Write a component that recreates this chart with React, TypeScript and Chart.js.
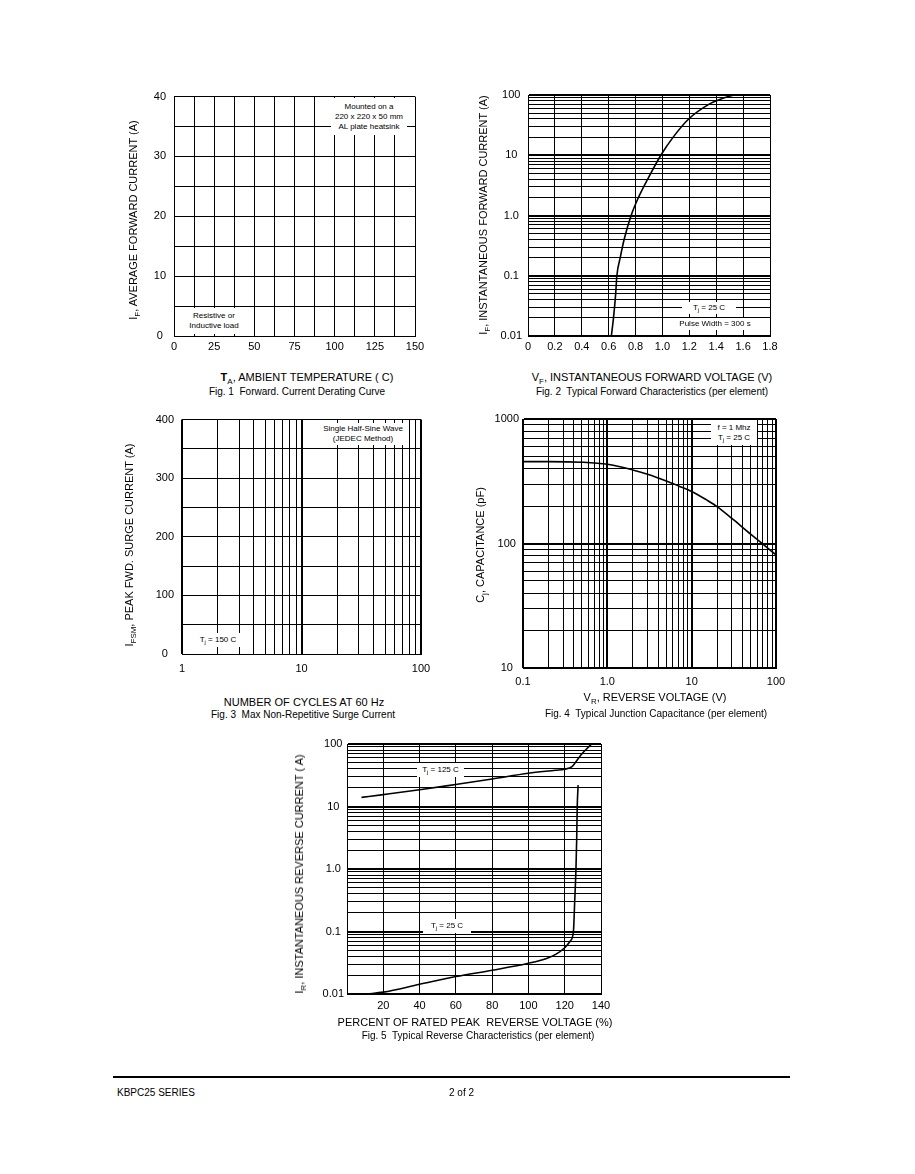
import React, { useEffect, useRef } from 'react';
import { Chart, registerables } from 'chart.js';

Chart.register(...registerables);

const FONT = '"Liberation Sans", Arial, Helvetica, sans-serif';

// ---------- Fig. 1 (grid only) ----------
const fig1XTicks = [0, 12.5, 25, 37.5, 50, 62.5, 75, 87.5, 100, 112.5, 125, 137.5, 150];
const fig1XLabels = ['0', '', '25', '', '50', '', '75', '', '100', '', '125', '', '150'];
const fig1YTicks = [0, 5, 10, 15, 20, 25, 30, 35, 40];
const fig1YLabels = ['0', '', '10', '', '20', '', '30', '', '40'];

// ---------- Fig. 2 ----------
const fig2XTicks = [0, 0.2, 0.4, 0.6, 0.8, 1.0, 1.2, 1.4, 1.6, 1.8];
const fig2XLabels = ['0', '0.2', '0.4', '0.6', '0.8', '1.0', '1.2', '1.4', '1.6', '1.8'];
const fig2YLabelValues = [0.01, 0.1, 1, 10, 100];
const fig2YLabels = ['0.01', '0.1', '1.0', '10', '100'];
const fig2Voltage = [0.62, 0.636, 0.652, 0.661, 0.686, 0.715, 0.767, 0.822, 0.89, 0.988, 1.08, 1.195, 1.345, 1.45, 1.53];
const fig2Current = [0.01, 0.02, 0.05, 0.1, 0.2, 0.4, 1.0, 2.0, 4.0, 10, 20, 40, 70, 88, 100];

// ---------- Fig. 3 (grid only) ----------
const fig3XLabelValues = [1, 10, 100];
const fig3XLabels = ['1', '10', '100'];
const fig3YTicks = [0, 50, 100, 150, 200, 250, 300, 350, 400];
const fig3YLabels = ['0', '', '100', '', '200', '', '300', '', '400'];

// ---------- Fig. 4 ----------
const fig4XLabelValues = [0.1, 1, 10, 100];
const fig4XLabels = ['0.1', '1.0', '10', '100'];
const fig4YLabelValues = [10, 100, 1000];
const fig4YLabels = ['10', '100', '1000'];
const fig4Voltage = [0.1, 0.2, 0.5, 1.0, 2.0, 3.0, 5.0, 7.0, 10, 15, 20, 30, 50, 70, 100];
const fig4Cap = [455, 455, 450, 433, 390, 360, 318, 290, 262, 224, 198, 159, 119, 99, 81];

// ---------- Fig. 5 ----------
const fig5XTicks = [0, 20, 40, 60, 80, 100, 120, 140];
const fig5XLabels = ['', '20', '40', '60', '80', '100', '120', '140'];
const fig5YLabelValues = [0.01, 0.1, 1, 10, 100];
const fig5YLabels = ['0.01', '0.1', '1.0', '10', '100'];
const fig5Percent125 = [8, 20, 40, 60, 80, 100, 115, 120, 124, 126.6, 129.4, 132, 134.8];
const fig5Current125 = [14, 15.5, 18.5, 22.5, 27.5, 34, 38, 39.5, 43.5, 54, 69, 83, 100];
const fig5Percent25 = [11, 20, 40, 60, 80, 100, 110, 115, 120, 123, 124.8, 125.5, 126.2, 126.6, 126.9, 127.4];
const fig5Current25 = [0.01, 0.0107, 0.0143, 0.019, 0.024, 0.031, 0.037, 0.043, 0.055, 0.07, 0.1, 0.3, 1, 3, 10, 22];

// grid lines at 1..9 x 10^e for a log axis
function logGrid(minExp: number, maxExp: number): number[] {
  const out: number[] = [];
  for (let e = minExp; e < maxExp; e++) {
    for (let m = 1; m < 10; m++) out.push(+(m * Math.pow(10, e)).toPrecision(4));
  }
  out.push(+Math.pow(10, maxExp).toPrecision(4));
  return out;
}
const isDecade = (v: number) => {
  const l = Math.log10(v);
  return Math.abs(l - Math.round(l)) < 1e-9;
};

const tickFont = { family: FONT, size: 11 };

function linAxis(min: number, max: number, ticks: number[], labels: string[], pad: number, vertical: boolean) {
  return {
    type: 'linear',
    min,
    max,
    afterBuildTicks: (s: any) => {
      s.ticks = ticks.map((v) => ({ value: v }));
    },
    ticks: {
      autoSkip: false,
      maxRotation: 0,
      minRotation: 0,
      padding: pad,
      color: '#000',
      font: tickFont,
      crossAlign: vertical ? 'center' : 'near',
      callback: (_v: any, i: number) => labels[i] ?? '',
    },
    grid: { color: '#000', lineWidth: 1, drawTicks: false },
    border: { color: '#000', width: 1 },
  };
}

function logAxis(minExp: number, maxExp: number, labelValues: number[], labels: string[], pad: number, vertical: boolean) {
  const ticks = logGrid(minExp, maxExp);
  return {
    type: 'logarithmic',
    min: Math.pow(10, minExp),
    max: Math.pow(10, maxExp),
    afterBuildTicks: (s: any) => {
      s.ticks = ticks.map((v) => ({ value: v }));
    },
    ticks: {
      autoSkip: false,
      maxRotation: 0,
      minRotation: 0,
      padding: pad,
      color: '#000',
      font: tickFont,
      crossAlign: vertical ? 'center' : 'near',
      callback: (v: any) => {
        const val = Number(v);
        const idx = labelValues.findIndex((lv) => Math.abs(val / lv - 1) < 1e-6);
        return idx >= 0 ? labels[idx] : '';
      },
    },
    grid: {
      color: '#000',
      lineWidth: (ctx: any) => (ctx.tick && isDecade(ctx.tick.value) ? 2 : 1),
      drawTicks: false,
    },
    border: { color: '#000', width: 1 },
  };
}

function curve(xs: number[], ys: number[]) {
  return {
    data: xs.map((x, i) => ({ x, y: ys[i] })),
    borderColor: '#000',
    borderWidth: 1.6,
    pointRadius: 0,
    fill: false,
    cubicInterpolationMode: 'monotone',
  };
}

function baseConfig(datasets: any[], x: any, y: any) {
  return {
    type: 'line',
    data: { datasets },
    options: {
      animation: false,
      responsive: false,
      events: [],
      plugins: { legend: { display: false }, tooltip: { enabled: false } },
      scales: { x, y },
    },
  };
}

const YW = 60;
const XH = 30;
const PT = 14;
const PR = 22;

function ChartBox(props: { left: number; top: number; right: number; bottom: number; build: () => any }) {
  const ref = useRef<HTMLCanvasElement>(null);
  const { left, top, right, bottom, build } = props;
  const w = right - left + YW + PR;
  const h = bottom - top + PT + XH;
  useEffect(() => {
    const cfg = build();
    cfg.options.layout = { padding: { top: PT, right: PR, left: 0, bottom: 0 } };
    cfg.options.scales.x.afterFit = (s: any) => {
      s.height = XH;
    };
    cfg.options.scales.y.afterFit = (s: any) => {
      s.width = YW;
    };
    const chart = new Chart(ref.current as HTMLCanvasElement, cfg);
    return () => chart.destroy();
  }, []);
  return (
    <canvas
      ref={ref}
      width={w}
      height={h}
      style={{ position: 'absolute', left: left - YW, top: top - PT, width: w, height: h, display: 'block' }}
    />
  );
}

const Sub = (p: { children: any }) => (
  <span style={{ fontSize: '0.72em', position: 'relative', top: '0.35em' }}>{p.children}</span>
);

function Label(props: { x: number; y: number; size?: number; rotate?: boolean; children: any }) {
  const { x, y, size = 11, rotate, children } = props;
  return (
    <div
      style={{
        position: 'absolute',
        left: x,
        top: y,
        transform: `translate(-50%, -50%)${rotate ? ' rotate(-90deg)' : ''}`,
        whiteSpace: 'nowrap',
        fontSize: size,
        lineHeight: `${size + 2}px`,
      }}
    >
      {children}
    </div>
  );
}

function Note(props: { left: number; top: number; width: number; height: number; size?: number; lines: any[] }) {
  const { left, top, width, height, size = 8, lines } = props;
  return (
    <div
      style={{
        position: 'absolute',
        left,
        top,
        width,
        height,
        background: '#fff',
        display: 'flex',
        flexDirection: 'column',
        justifyContent: 'center',
        alignItems: 'center',
        fontSize: size,
        lineHeight: '10px',
        whiteSpace: 'nowrap',
      }}
    >
      {lines.map((l, i) => (
        <div key={i}>{l}</div>
      ))}
    </div>
  );
}

const fig1Config = () =>
  baseConfig([], linAxis(0, 150, fig1XTicks, fig1XLabels, 4, false), linAxis(0, 40, fig1YTicks, fig1YLabels, 8, true));

const fig2Config = () =>
  baseConfig(
    [curve(fig2Voltage, fig2Current)],
    linAxis(0, 1.8, fig2XTicks, fig2XLabels, 4, false),
    logAxis(-2, 2, fig2YLabelValues, fig2YLabels, 6, true)
  );

const fig3Config = () =>
  baseConfig(
    [],
    logAxis(0, 2, fig3XLabelValues, fig3XLabels, 8, false),
    linAxis(0, 400, fig3YTicks, fig3YLabels, 8, true)
  );

const fig4Config = () =>
  baseConfig(
    [curve(fig4Voltage, fig4Cap)],
    logAxis(-1, 2, fig4XLabelValues, fig4XLabels, 7, false),
    logAxis(1, 3, fig4YLabelValues, fig4YLabels, 4, true)
  );

const fig5Config = () =>
  baseConfig(
    [curve(fig5Percent125, fig5Current125), curve(fig5Percent25, fig5Current25)],
    linAxis(0, 140, fig5XTicks, fig5XLabels, 5, false),
    logAxis(-2, 2, fig5YLabelValues, fig5YLabels, 3, true)
  );

export default function App() {
  return (
    <div
      style={{
        position: 'absolute',
        left: 0,
        top: 0,
        width: 915,
        height: 1174,
        background: '#fff',
        color: '#000',
        fontFamily: FONT,
        overflow: 'hidden',
      }}
    >
      <ChartBox left={174} top={96} right={415} bottom={336} build={fig1Config} />
      <ChartBox left={528} top={95} right={770} bottom={336} build={fig2Config} />
      <ChartBox left={182} top={419} right={421} bottom={654} build={fig3Config} />
      <ChartBox left={523} top={419} right={776} bottom={668} build={fig4Config} />
      <ChartBox left={347} top={744} right={601} bottom={994} build={fig5Config} />

      {/* Fig 1 */}
      <Note left={331} top={98} width={76} height={37} lines={['Mounted on a', '220 x 220 x 50 mm', 'AL plate heatsink']} />
      <Note left={175} top={308} width={78} height={26} lines={['Resistive or', 'Inductive load']} />
      <Label x={134} y={220} rotate>
        I<Sub>F</Sub>, AVERAGE FORWARD CURRENT (A)
      </Label>
      <Label x={307} y={378}>
        <b>T</b>
        <Sub>A</Sub>, AMBIENT TEMPERATURE ( C)
      </Label>
      <Label x={297} y={392} size={10}>
        Fig. 1&nbsp; Forward. Current Derating Curve
      </Label>

      {/* Fig 2 */}
      <Note left={682} top={302} width={54} height={12} lines={[<span>T<Sub>j</Sub> = 25 C</span>]} />
      <Note left={672} top={318} width={86} height={12} lines={['Pulse Width = 300  s']} />
      <Label x={484} y={215} rotate>
        I<Sub>F</Sub>, INSTANTANEOUS FORWARD CURRENT (A)
      </Label>
      <Label x={652} y={378}>
        V<Sub>F</Sub>, INSTANTANEOUS FORWARD VOLTAGE (V)
      </Label>
      <Label x={652} y={392} size={10}>
        Fig. 2&nbsp; Typical Forward Characteristics (per element)
      </Label>

      {/* Fig 3 */}
      <Note left={318} top={423} width={90} height={22} lines={['Single Half-Sine Wave', '(JEDEC Method)']} />
      <Note left={192} top={633} width={52} height={14} lines={[<span>T<Sub>j</Sub> = 150 C</span>]} />
      <Label x={130} y={545} rotate>
        I<Sub>FSM</Sub>, PEAK FWD. SURGE CURRENT (A)
      </Label>
      <Label x={304} y={702}>
        NUMBER OF CYCLES AT 60 Hz
      </Label>
      <Label x={303} y={715} size={10}>
        Fig. 3&nbsp; Max Non-Repetitive Surge Current
      </Label>

      {/* Fig 4 */}
      <Note left={711} top={420} width={46} height={25} lines={['f = 1 Mhz', <span>T<Sub>j</Sub> = 25 C</span>]} />
      <Label x={481} y={545} rotate>
        C<Sub>j</Sub>, CAPACITANCE (pF)
      </Label>
      <Label x={655} y={698}>
        V<Sub>R</Sub>, REVERSE VOLTAGE (V)
      </Label>
      <Label x={656} y={714} size={10}>
        Fig. 4&nbsp; Typical Junction Capacitance (per element)
      </Label>

      {/* Fig 5 */}
      <Note left={417} top={763} width={47} height={14} lines={[<span>T<Sub>j</Sub> = 125 C</span>]} />
      <Note left={423} top={919} width={48} height={14} lines={[<span>T<Sub>j</Sub> = 25 C</span>]} />
      <Label x={300} y={874} rotate>
        I<Sub>R</Sub>, INSTANTANEOUS REVERSE CURRENT ( A)
      </Label>
      <Label x={475} y={1022}>
        PERCENT OF RATED PEAK&nbsp; REVERSE VOLTAGE (%)
      </Label>
      <Label x={478} y={1036} size={10}>
        Fig. 5&nbsp; Typical Reverse Characteristics (per element)
      </Label>

      {/* footer */}
      <div style={{ position: 'absolute', left: 113, top: 1076, width: 677, height: 2, background: '#000' }} />
      <div style={{ position: 'absolute', left: 117, top: 1087, fontSize: 10, lineHeight: '12px', whiteSpace: 'nowrap' }}>
        KBPC25 SERIES
      </div>
      <div style={{ position: 'absolute', left: 449, top: 1087, fontSize: 10, lineHeight: '12px', whiteSpace: 'nowrap' }}>
        2 of 2
      </div>
    </div>
  );
}
